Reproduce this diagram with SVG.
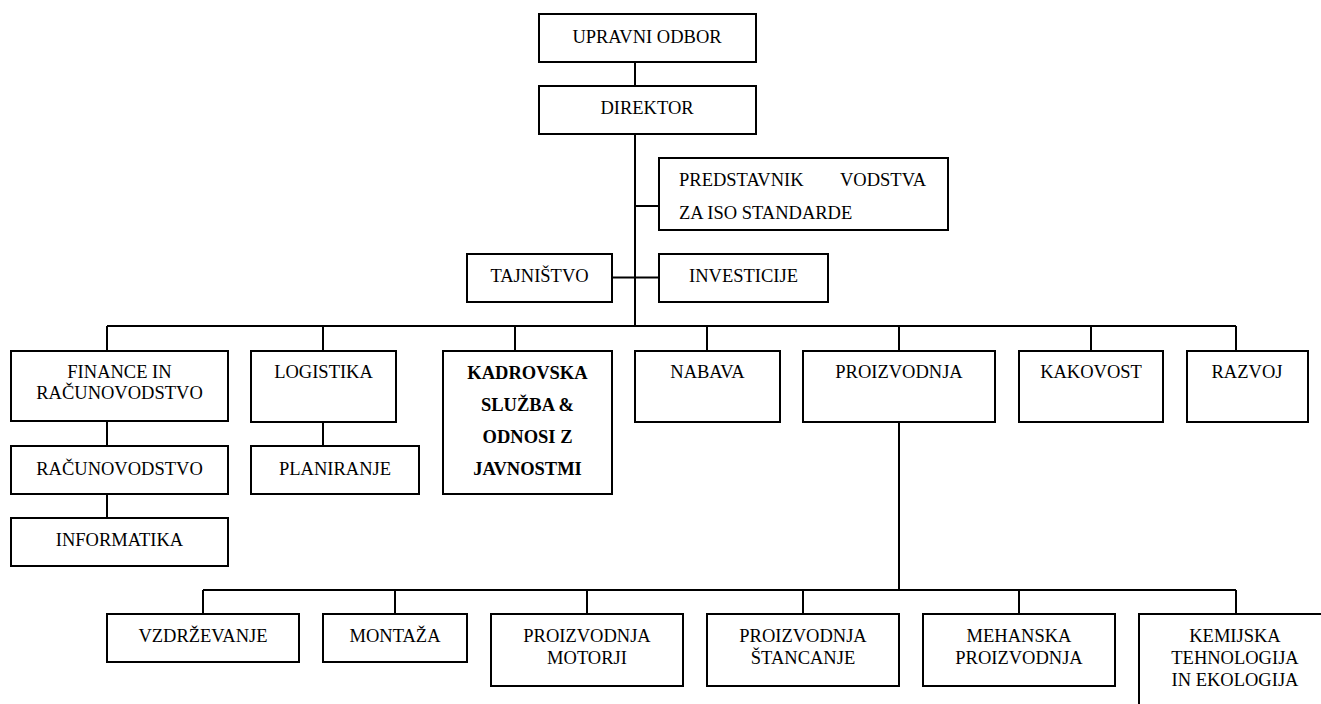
<svg xmlns="http://www.w3.org/2000/svg" width="1321" height="704" viewBox="0 0 1321 704">
<style>
.box{fill:#fff;stroke:#000;stroke-width:2}
.t{font-family:"Liberation Serif","Times New Roman",serif;font-size:18.5px;fill:#000;text-anchor:middle}
.b{font-weight:bold}
.l{text-anchor:start}
#connectors path{fill:none;stroke:#000;stroke-width:2}
</style>
<rect width="1321" height="704" fill="#fff"/>
<g id="connectors">
<path d="M635 62V86M635 134V326"/>
<path d="M635 206H659"/>
<path d="M612 277.5H659"/>
<path d="M107 326H1236"/>
<path d="M107 326V351M323 326V351M515 326V351M707 326V351M899 326V351M1091 326V351M1236 326V351"/>
<path d="M107 421V446M107 494V518"/>
<path d="M323 422V446"/>
<path d="M899 422V590"/>
<path d="M203 590H1236"/>
<path d="M203 590V614M395 590V614M587 590V614M803 590V614M1019 590V614M1236 590V614"/>
</g>
<g id="upravni-odbor"><rect class="box" x="539" y="14" width="217" height="48"/><text class="t" x="647" y="43">UPRAVNI ODBOR</text></g>
<g id="direktor"><rect class="box" x="539" y="86" width="217" height="48"/><text class="t" x="647" y="114">DIREKTOR</text></g>
<g id="predstavnik"><rect class="box" x="659" y="158" width="289" height="72"/><text class="t l" y="186"><tspan x="679">PREDSTAVNIK</tspan><tspan x="926" text-anchor="end">VODSTVA</tspan></text><text class="t l" x="679" y="218.5">ZA ISO STANDARDE</text></g>
<g id="tajnistvo"><rect class="box" x="467" y="254" width="145" height="48"/><text class="t" x="539.5" y="282">TAJNIŠTVO</text></g>
<g id="investicije"><rect class="box" x="659" y="254" width="169" height="48"/><text class="t" x="743.5" y="282">INVESTICIJE</text></g>
<g id="finance"><rect class="box" x="11" y="351" width="217" height="70"/><text class="t" x="119.5" y="378">FINANCE IN</text><text class="t" x="119.5" y="399">RAČUNOVODSTVO</text></g>
<g id="logistika"><rect class="box" x="251" y="351" width="145" height="71"/><text class="t" x="323.5" y="378">LOGISTIKA</text></g>
<g id="kadrovska"><rect class="box" x="443" y="351" width="169" height="143"/><text class="t b" x="527.5" y="378.5">KADROVSKA</text><text class="t b" x="527.5" y="410.5">SLUŽBA &amp;</text><text class="t b" x="527.5" y="442.5">ODNOSI Z</text><text class="t b" x="527.5" y="475">JAVNOSTMI</text></g>
<g id="nabava"><rect class="box" x="635" y="351" width="145" height="71"/><text class="t" x="707.5" y="378">NABAVA</text></g>
<g id="proizvodnja"><rect class="box" x="803" y="351" width="192" height="71"/><text class="t" x="899" y="378">PROIZVODNJA</text></g>
<g id="kakovost"><rect class="box" x="1019" y="351" width="144" height="71"/><text class="t" x="1091" y="378">KAKOVOST</text></g>
<g id="razvoj"><rect class="box" x="1187" y="351" width="121" height="71"/><text class="t" x="1247" y="378">RAZVOJ</text></g>
<g id="racunovodstvo"><rect class="box" x="11" y="446" width="217" height="48"/><text class="t" x="119.5" y="474.5">RAČUNOVODSTVO</text></g>
<g id="planiranje"><rect class="box" x="251" y="446" width="168" height="48"/><text class="t" x="335" y="474.5">PLANIRANJE</text></g>
<g id="informatika"><rect class="box" x="11" y="518" width="217" height="48"/><text class="t" x="119.5" y="546">INFORMATIKA</text></g>
<g id="vzdrzevanje"><rect class="box" x="107" y="614" width="192" height="48"/><text class="t" x="203" y="642">VZDRŽEVANJE</text></g>
<g id="montaza"><rect class="box" x="323" y="614" width="144" height="48"/><text class="t" x="395" y="642">MONTAŽA</text></g>
<g id="motorji"><rect class="box" x="491" y="614" width="192" height="72"/><text class="t" x="587" y="642">PROIZVODNJA</text><text class="t" x="587" y="663.5">MOTORJI</text></g>
<g id="stancanje"><rect class="box" x="707" y="614" width="192" height="72"/><text class="t" x="803" y="642">PROIZVODNJA</text><text class="t" x="803" y="663.5">ŠTANCANJE</text></g>
<g id="mehanska"><rect class="box" x="923" y="614" width="192" height="72"/><text class="t" x="1019" y="642">MEHANSKA</text><text class="t" x="1019" y="663.5">PROIZVODNJA</text></g>
<g id="kemijska"><rect class="box" x="1139" y="614" width="200" height="110"/><text class="t" x="1235" y="642">KEMIJSKA</text><text class="t" x="1235" y="664">TEHNOLOGIJA</text><text class="t" x="1235" y="685.5">IN EKOLOGIJA</text></g>
</svg>
